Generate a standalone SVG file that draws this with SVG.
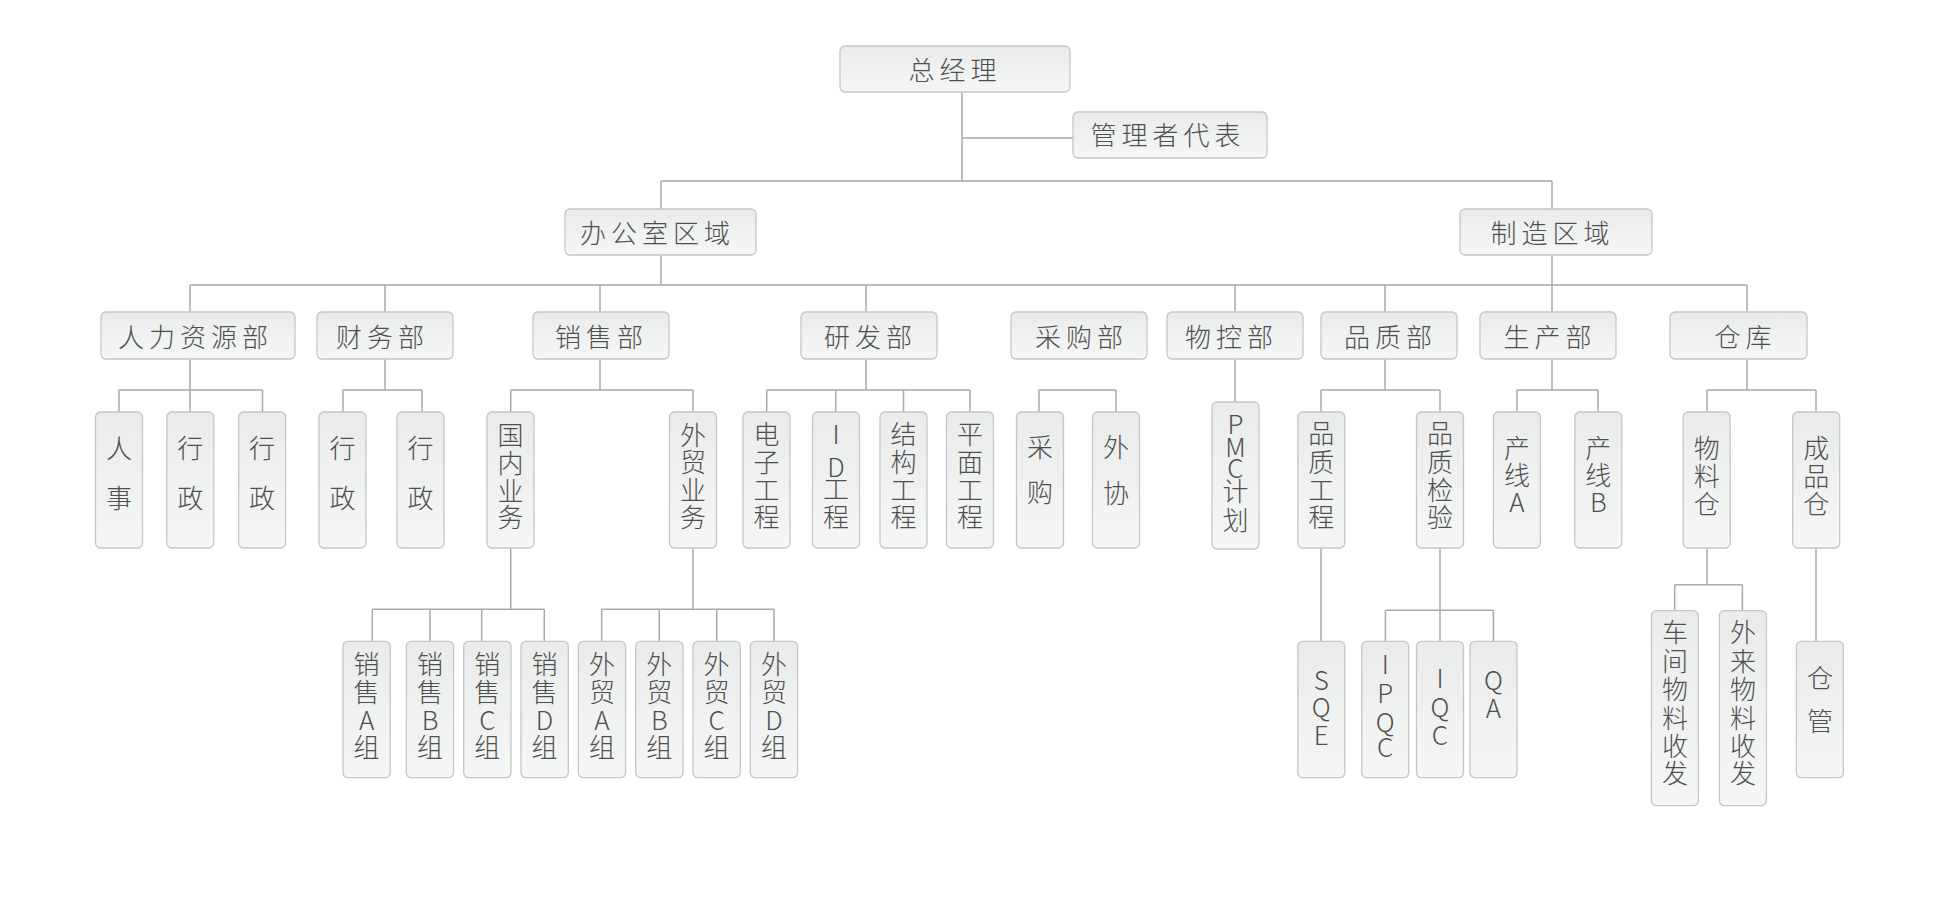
<svg xmlns="http://www.w3.org/2000/svg" width="1933" height="913" viewBox="0 0 1933 913">
<defs>
<linearGradient id="g" x1="0" y1="0" x2="0" y2="1">
<stop offset="0" stop-color="#eaebeb"/>
<stop offset="1" stop-color="#f5f6f6"/>
</linearGradient>
<style>
.b{fill:url(#g);stroke:#c6c6c6;stroke-width:1.3}
.t{font-family:"Noto Sans CJK SC","Noto Sans",sans-serif;font-size:26px;font-weight:300;fill:#4f4f4f;text-anchor:middle}
.h{letter-spacing:5px}
.c{fill:none;stroke:#a9a9a9;stroke-width:1.5}
</style>
</defs>
<rect width="1933" height="913" fill="#ffffff"/>
<g id="connectors">
<path class="c" d="M962 92V181M962 138H1073M661 181H1552M661 181V209M1552 181V209
M661 255V285M1552 255V285M190 285H1747
M190 285V312M385 285V312M600 285V312M866 285V312M1235 285V312M1385 285V312M1552 285V312M1747 285V312
M190 359V412M385 359V390M600 359V390M866 359V390M1235 359V402M1385 359V390M1552 359V390M1747 359V390
M119 390H262.5M343 390H422M510.7 390H693M766.7 390H970M1039 390H1116M1321 390H1440M1517 390H1598M1707 390H1816
M119 390V412M262.5 390V412M343 390V412M422 390V412M510.7 390V412M693 390V412M766.7 390V412M835.7 390V412M903.5 390V412M970 390V412M1039 390V412M1116 390V412M1321 390V412M1440 390V412M1517 390V412M1598 390V412M1707 390V412M1816 390V412
M510.7 548V609.3M372.3 609.3H544.3M372.3 609.3V641.3M430 609.3V641.3M481.7 609.3V641.3M544.3 609.3V641.3
M693 548V609.3M601.7 609.3H774M601.7 609.3V641.3M659.3 609.3V641.3M716.7 609.3V641.3M774 609.3V641.3
M1321 548V641.3
M1440 548V641.3M1385.4 610.3H1493.4M1385.4 610.3V641.3M1493.4 610.3V641.3
M1707 548V584.7M1674.7 584.7H1742.4M1674.7 584.7V610.7M1742.4 584.7V610.7
M1816 548V641.3"/>
</g>
<g id="n_zjl"><rect class="b" x="840" y="46" width="230" height="46" rx="5"/><text class="t h" x="955" y="80">总经理</text></g>
<g id="n_glzdb"><rect class="b" x="1073" y="112" width="194" height="46" rx="5"/><text class="t h" x="1168" y="145">管理者代表</text></g>
<g id="n_bgs"><rect class="b" x="565" y="209" width="191" height="46" rx="5"/><text class="t h" x="657.5" y="243">办公室区域</text></g>
<g id="n_zz"><rect class="b" x="1460" y="209" width="192" height="46" rx="5"/><text class="t h" x="1552.5" y="243">制造区域</text></g>
<g id="n_rl"><rect class="b" x="101" y="312" width="194" height="47" rx="5"/><text class="t h" x="195.5" y="347">人力资源部</text></g>
<g id="n_cw"><rect class="b" x="317" y="312" width="136" height="47" rx="5"/><text class="t h" x="382.5" y="347">财务部</text></g>
<g id="n_xs"><rect class="b" x="533" y="312" width="136" height="47" rx="5"/><text class="t h" x="601.5" y="347">销售部</text></g>
<g id="n_yf"><rect class="b" x="801" y="312" width="136" height="47" rx="5"/><text class="t h" x="870.5" y="347">研发部</text></g>
<g id="n_cgb"><rect class="b" x="1011" y="312" width="136" height="47" rx="5"/><text class="t h" x="1081.5" y="347">采购部</text></g>
<g id="n_wk"><rect class="b" x="1167" y="312" width="136" height="47" rx="5"/><text class="t h" x="1231.5" y="347">物控部</text></g>
<g id="n_pz"><rect class="b" x="1321" y="312" width="136" height="47" rx="5"/><text class="t h" x="1390.5" y="347">品质部</text></g>
<g id="n_sc"><rect class="b" x="1480" y="312" width="136" height="47" rx="5"/><text class="t h" x="1550" y="347">生产部</text></g>
<g id="n_ck"><rect class="b" x="1670" y="312" width="137" height="47" rx="5"/><text class="t h" x="1745.5" y="347">仓库</text></g>

<g id="n_rs"><rect class="b" x="95.5" y="412" width="47" height="136" rx="5"/><text class="t"><tspan x="119" y="458">人</tspan><tspan x="119" y="508">事</tspan></text></g>
<g id="n_xz1"><rect class="b" x="166.8" y="412" width="47" height="136" rx="5"/><text class="t"><tspan x="190.3" y="458">行</tspan><tspan x="190.3" y="508">政</tspan></text></g>
<g id="n_xz2"><rect class="b" x="238.6" y="412" width="47" height="136" rx="5"/><text class="t"><tspan x="262.1" y="458">行</tspan><tspan x="262.1" y="508">政</tspan></text></g>
<g id="n_xz3"><rect class="b" x="319" y="412" width="47" height="136" rx="5"/><text class="t"><tspan x="342.5" y="458">行</tspan><tspan x="342.5" y="508">政</tspan></text></g>
<g id="n_xz4"><rect class="b" x="397" y="412" width="47" height="136" rx="5"/><text class="t"><tspan x="420.5" y="458">行</tspan><tspan x="420.5" y="508">政</tspan></text></g>
<g id="n_gnyw"><rect class="b" x="487" y="412" width="47" height="136" rx="5"/><text class="t"><tspan x="510.5" y="445">国</tspan><tspan x="510.5" y="473">内</tspan><tspan x="510.5" y="501">业</tspan><tspan x="510.5" y="527">务</tspan></text></g>
<g id="n_wmyw"><rect class="b" x="669.5" y="412" width="47" height="136" rx="5"/><text class="t"><tspan x="693" y="445">外</tspan><tspan x="693" y="472">贸</tspan><tspan x="693" y="500">业</tspan><tspan x="693" y="527">务</tspan></text></g>
<g id="n_dzgc"><rect class="b" x="743" y="412" width="47" height="136" rx="5"/><text class="t"><tspan x="766.5" y="444">电</tspan><tspan x="766.5" y="472">子</tspan><tspan x="766.5" y="500">工</tspan><tspan x="766.5" y="527">程</tspan></text></g>
<g id="n_idgc"><rect class="b" x="812.5" y="412" width="47" height="136" rx="5"/><text class="t"><tspan x="836" y="443.5">I</tspan><tspan x="836" y="476.5">D</tspan><tspan x="836" y="499">工</tspan><tspan x="836" y="527">程</tspan></text></g>
<g id="n_jggc"><rect class="b" x="880" y="412" width="47" height="136" rx="5"/><text class="t"><tspan x="903.5" y="444">结</tspan><tspan x="903.5" y="472">构</tspan><tspan x="903.5" y="500">工</tspan><tspan x="903.5" y="527">程</tspan></text></g>
<g id="n_pmgc"><rect class="b" x="946.5" y="412" width="47" height="136" rx="5"/><text class="t"><tspan x="970" y="444">平</tspan><tspan x="970" y="472">面</tspan><tspan x="970" y="500">工</tspan><tspan x="970" y="527">程</tspan></text></g>
<g id="n_cg"><rect class="b" x="1016.5" y="412" width="47" height="136" rx="5"/><text class="t"><tspan x="1040" y="457">采</tspan><tspan x="1040" y="502">购</tspan></text></g>
<g id="n_wx"><rect class="b" x="1092.5" y="412" width="47" height="136" rx="5"/><text class="t"><tspan x="1116" y="457">外</tspan><tspan x="1116" y="503">协</tspan></text></g>
<g id="n_pmc"><rect class="b" x="1212" y="402" width="47" height="147" rx="5"/><text class="t"><tspan x="1235.5" y="433.5">P</tspan><tspan x="1235.5" y="456.5">M</tspan><tspan x="1235.5" y="477.5">C</tspan><tspan x="1235.5" y="501">计</tspan><tspan x="1235.5" y="529.5">划</tspan></text></g>
<g id="n_pzgc"><rect class="b" x="1297.8" y="412" width="47" height="136" rx="5"/><text class="t"><tspan x="1321.3" y="443">品</tspan><tspan x="1321.3" y="472">质</tspan><tspan x="1321.3" y="500">工</tspan><tspan x="1321.3" y="527">程</tspan></text></g>
<g id="n_pzjy"><rect class="b" x="1416.5" y="412" width="47" height="136" rx="5"/><text class="t"><tspan x="1440" y="443">品</tspan><tspan x="1440" y="472">质</tspan><tspan x="1440" y="500">检</tspan><tspan x="1440" y="527">验</tspan></text></g>
<g id="n_cxa"><rect class="b" x="1493.4" y="412" width="47" height="136" rx="5"/><text class="t"><tspan x="1517" y="458">产</tspan><tspan x="1517" y="485">线</tspan><tspan x="1517" y="511.5">A</tspan></text></g>
<g id="n_cxb"><rect class="b" x="1574.8" y="412" width="47" height="136" rx="5"/><text class="t"><tspan x="1598.3" y="458">产</tspan><tspan x="1598.3" y="485">线</tspan><tspan x="1598.3" y="511.5">B</tspan></text></g>
<g id="n_wlc"><rect class="b" x="1683.2" y="412" width="47" height="136" rx="5"/><text class="t"><tspan x="1706.7" y="458">物</tspan><tspan x="1706.7" y="486">料</tspan><tspan x="1706.7" y="514">仓</tspan></text></g>
<g id="n_cpc"><rect class="b" x="1792.7" y="412" width="47" height="136" rx="5"/><text class="t"><tspan x="1816.2" y="458">成</tspan><tspan x="1816.2" y="486">品</tspan><tspan x="1816.2" y="514">仓</tspan></text></g>

<g id="n_xsa"><rect class="b" x="343" y="641.3" width="47.3" height="136.4" rx="5"/><text class="t"><tspan x="366.6" y="674">销</tspan><tspan x="366.6" y="702">售</tspan><tspan x="366.6" y="729.5">A</tspan><tspan x="366.6" y="757">组</tspan></text></g>
<g id="n_xsb"><rect class="b" x="406.3" y="641.3" width="47.3" height="136.4" rx="5"/><text class="t"><tspan x="430" y="674">销</tspan><tspan x="430" y="702">售</tspan><tspan x="430" y="729.5">B</tspan><tspan x="430" y="757">组</tspan></text></g>
<g id="n_xsc"><rect class="b" x="463.7" y="641.3" width="47.3" height="136.4" rx="5"/><text class="t"><tspan x="487.3" y="674">销</tspan><tspan x="487.3" y="702">售</tspan><tspan x="487.3" y="729.5">C</tspan><tspan x="487.3" y="757">组</tspan></text></g>
<g id="n_xsd"><rect class="b" x="521" y="641.3" width="47.3" height="136.4" rx="5"/><text class="t"><tspan x="544.6" y="674">销</tspan><tspan x="544.6" y="702">售</tspan><tspan x="544.6" y="729.5">D</tspan><tspan x="544.6" y="757">组</tspan></text></g>
<g id="n_wma"><rect class="b" x="578.3" y="641.3" width="47.3" height="136.4" rx="5"/><text class="t"><tspan x="601.9" y="674">外</tspan><tspan x="601.9" y="702">贸</tspan><tspan x="601.9" y="729.5">A</tspan><tspan x="601.9" y="757">组</tspan></text></g>
<g id="n_wmb"><rect class="b" x="635.7" y="641.3" width="47.3" height="136.4" rx="5"/><text class="t"><tspan x="659.3" y="674">外</tspan><tspan x="659.3" y="702">贸</tspan><tspan x="659.3" y="729.5">B</tspan><tspan x="659.3" y="757">组</tspan></text></g>
<g id="n_wmc"><rect class="b" x="693" y="641.3" width="47.3" height="136.4" rx="5"/><text class="t"><tspan x="716.6" y="674">外</tspan><tspan x="716.6" y="702">贸</tspan><tspan x="716.6" y="729.5">C</tspan><tspan x="716.6" y="757">组</tspan></text></g>
<g id="n_wmd"><rect class="b" x="750.3" y="641.3" width="47.3" height="136.4" rx="5"/><text class="t"><tspan x="773.9" y="674">外</tspan><tspan x="773.9" y="702">贸</tspan><tspan x="773.9" y="729.5">D</tspan><tspan x="773.9" y="757">组</tspan></text></g>
<g id="n_sqe"><rect class="b" x="1297.8" y="641.3" width="47" height="136.4" rx="5"/><text class="t"><tspan x="1321.3" y="689.5">S</tspan><tspan x="1321.3" y="716.5">Q</tspan><tspan x="1321.3" y="744.5">E</tspan></text></g>
<g id="n_ipqc"><rect class="b" x="1361.7" y="641.3" width="47" height="136.4" rx="5"/><text class="t"><tspan x="1385.2" y="673.5">I</tspan><tspan x="1385.2" y="702.5">P</tspan><tspan x="1385.2" y="731.5">Q</tspan><tspan x="1385.2" y="756.5">C</tspan></text></g>
<g id="n_iqc"><rect class="b" x="1416.5" y="641.3" width="47" height="136.4" rx="5"/><text class="t"><tspan x="1440" y="687.5">I</tspan><tspan x="1440" y="716.5">Q</tspan><tspan x="1440" y="744.5">C</tspan></text></g>
<g id="n_qa"><rect class="b" x="1470" y="641.3" width="47" height="136.4" rx="5"/><text class="t"><tspan x="1493.5" y="689.5">Q</tspan><tspan x="1493.5" y="717.5">A</tspan></text></g>
<g id="n_cjwl"><rect class="b" x="1651.4" y="610.7" width="47" height="195" rx="5"/><text class="t"><tspan x="1674.9" y="641.5">车</tspan><tspan x="1674.9" y="670.5">间</tspan><tspan x="1674.9" y="699">物</tspan><tspan x="1674.9" y="727.5">料</tspan><tspan x="1674.9" y="756">收</tspan><tspan x="1674.9" y="783">发</tspan></text></g>
<g id="n_wlwl"><rect class="b" x="1719.4" y="610.7" width="47" height="195" rx="5"/><text class="t"><tspan x="1742.9" y="641.5">外</tspan><tspan x="1742.9" y="670.5">来</tspan><tspan x="1742.9" y="699">物</tspan><tspan x="1742.9" y="727.5">料</tspan><tspan x="1742.9" y="756">收</tspan><tspan x="1742.9" y="783">发</tspan></text></g>
<g id="n_cgl"><rect class="b" x="1796.4" y="641.3" width="47" height="136.4" rx="5"/><text class="t"><tspan x="1819.9" y="688">仓</tspan><tspan x="1819.9" y="731">管</tspan></text></g>
</svg>
